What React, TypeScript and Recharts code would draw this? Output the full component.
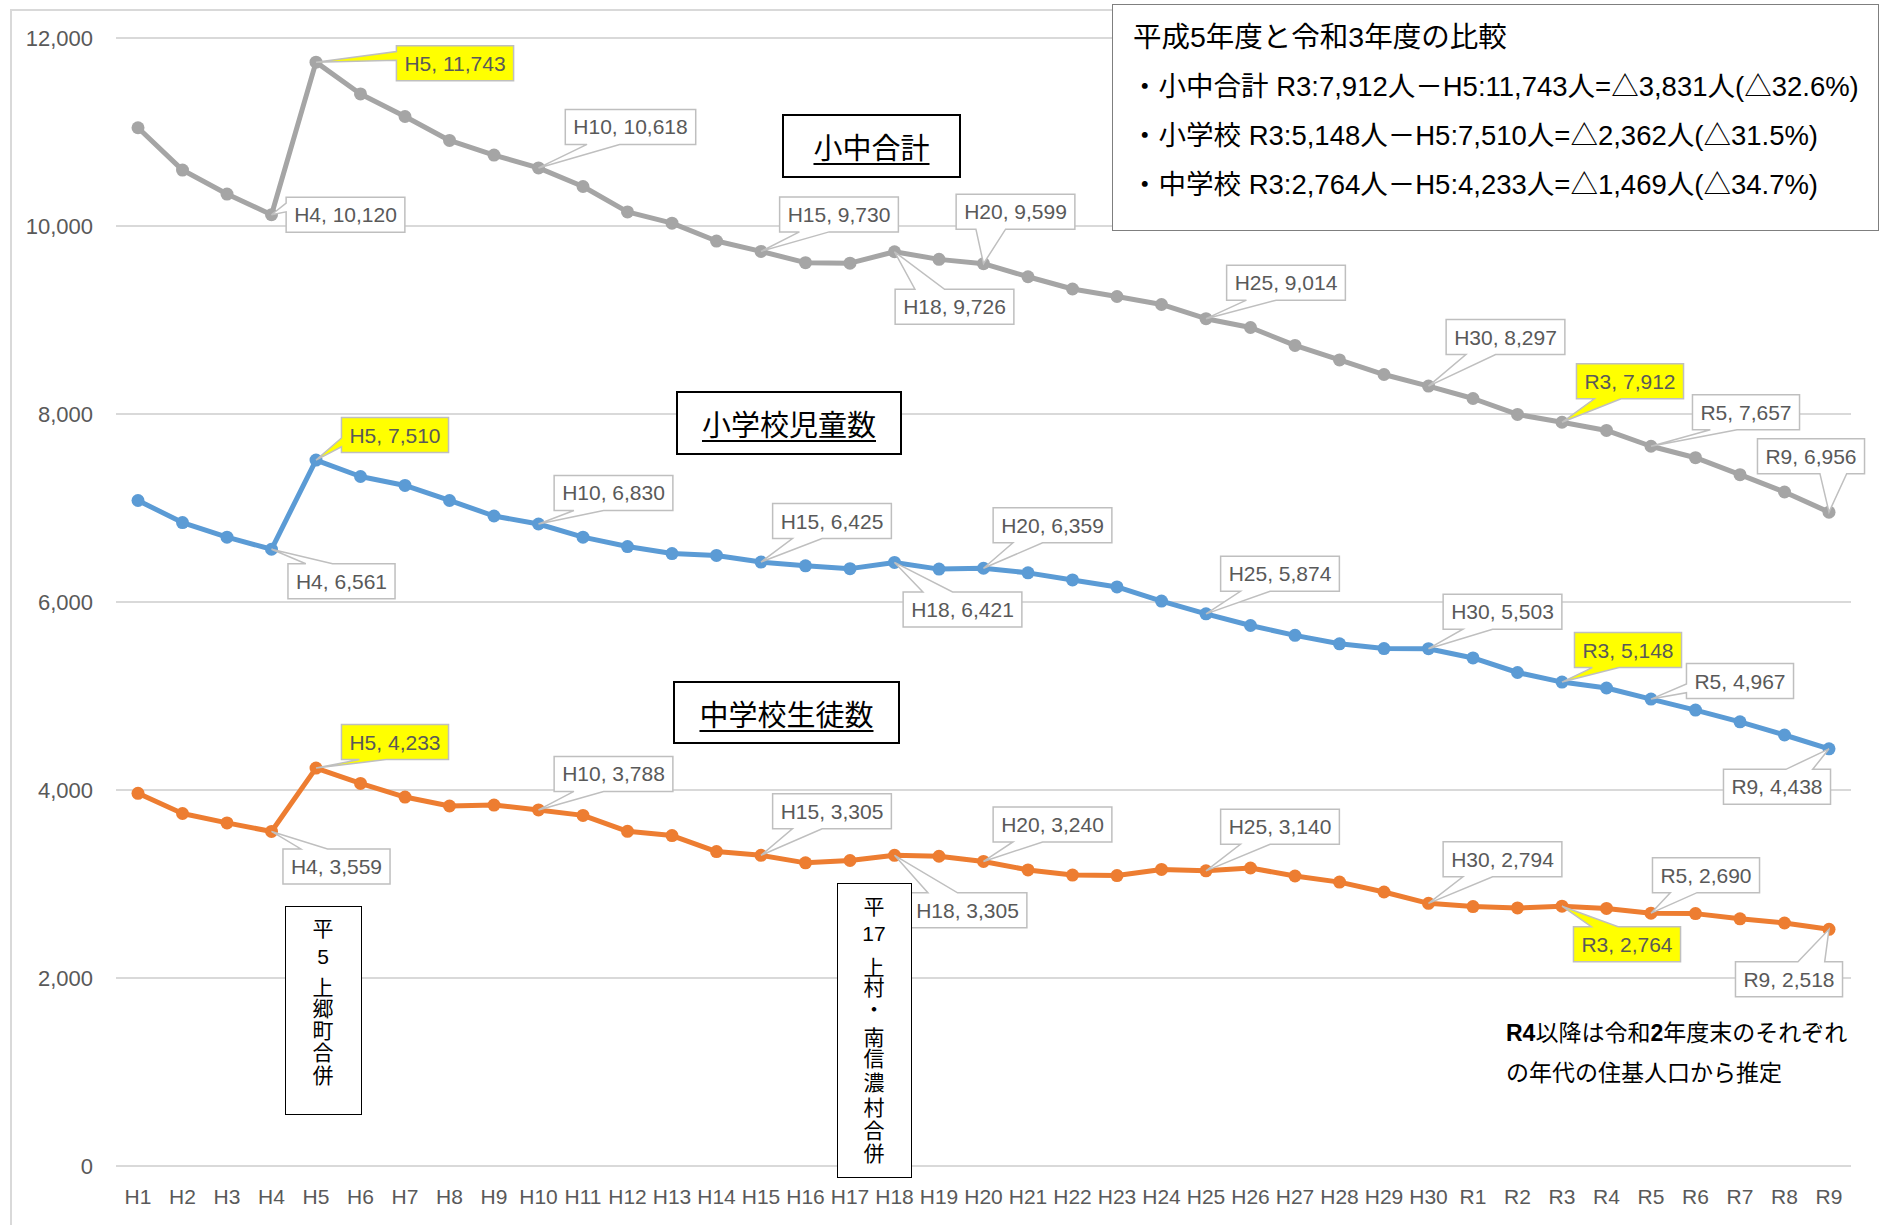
import React from 'react';
import { LineChart, Line, XAxis, YAxis, CartesianGrid } from 'recharts';

// 年度（平成1年度〜令和9年度）
const years = [
  'H1', 'H2', 'H3', 'H4', 'H5', 'H6', 'H7', 'H8', 'H9', 'H10',
  'H11', 'H12', 'H13', 'H14', 'H15', 'H16', 'H17', 'H18', 'H19', 'H20',
  'H21', 'H22', 'H23', 'H24', 'H25', 'H26', 'H27', 'H28', 'H29', 'H30',
  'R1', 'R2', 'R3', 'R4', 'R5', 'R6', 'R7', 'R8', 'R9',
];

// 小中合計
const totalStudents = [
  11045, 10595, 10340, 10120, 11743, 11405, 11165, 10910, 10755, 10618,
  10420, 10150, 10030, 9840, 9730, 9610, 9605, 9726, 9645, 9599,
  9460, 9330, 9250, 9165, 9014, 8920, 8730, 8575, 8420, 8297,
  8165, 7995, 7912, 7825, 7657, 7535, 7355, 7170, 6956,
];

// 小学校児童数
const elementaryStudents = [
  7080, 6845, 6690, 6561, 7510, 7335, 7240, 7080, 6915, 6830,
  6690, 6590, 6515, 6495, 6425, 6385, 6355, 6421, 6350, 6359,
  6310, 6235, 6160, 6010, 5874, 5750, 5645, 5555, 5505, 5503,
  5405, 5250, 5148, 5085, 4967, 4850, 4725, 4585, 4438,
];

// 中学校生徒数
const juniorHighStudents = [
  3965, 3750, 3650, 3559, 4233, 4070, 3925, 3830, 3840, 3788,
  3730, 3560, 3515, 3345, 3305, 3225, 3250, 3305, 3295, 3240,
  3150, 3095, 3090, 3155, 3140, 3170, 3085, 3020, 2915, 2794,
  2760, 2745, 2764, 2740, 2690, 2685, 2630, 2585, 2518,
];

const yTicks = [0, 2000, 4000, 6000, 8000, 10000, 12000];
const highlightedYears = ['H5', 'R3'];

// callout box centre, relative to its point (px)
type Offsets = Record<string, [number, number]>;
const totalLabelPos: Offsets = {
  H4: [74, 0], H5: [139, 1], H10: [92, -41], H15: [78, -37], H18: [60, 55], H20: [32, -52],
  H25: [80, -36], H30: [77, -49], R3: [68, -41], R5: [95, -34], R9: [-18, -56],
};
const elementaryLabelPos: Offsets = {
  H4: [70, 32], H5: [79, -25], H10: [75, -31], H15: [71, -41], H18: [68, 47], H20: [69, -43],
  H25: [74, -40], H30: [74, -37], R3: [66, -32], R5: [89, -18], R9: [-52, 38],
};
const juniorLabelPos: Offsets = {
  H4: [65, 35], H5: [79, -26], H10: [75, -36], H15: [71, -44], H18: [73, 55], H20: [69, -37],
  H25: [74, -44], H30: [74, -44], R3: [65, 38], R5: [55, -38], R9: [-40, 50],
};

const FONT = '"Liberation Sans", Arial, "Noto Sans CJK JP", sans-serif';
const JP_FONT = '"Liberation Sans", "Noto Sans CJK JP", sans-serif';
const TEXT_GREY = '#595959';

const rows = years.map((year, i) => ({
  year,
  total: totalStudents[i],
  elementary: elementaryStudents[i],
  juniorHigh: juniorHighStudents[i],
}));

let measureCtx: CanvasRenderingContext2D | null = null;
function textWidth(text: string) {
  if (!measureCtx) measureCtx = document.createElement('canvas').getContext('2d');
  if (!measureCtx) return text.length * 11;
  measureCtx.font = '21px "Liberation Sans", Arial, sans-serif';
  return measureCtx.measureText(text).width;
}

// wedge-rect callout like Excel's
function calloutPath(cx: number, cy: number, w: number, h: number, px: number, py: number) {
  const l = cx - w / 2, t = cy - h / 2, r = cx + w / 2, b = cy + h / 2;
  const dx = px - cx, dy = py - cy;
  const vertical = Math.abs(dy) - Math.abs((dx * h) / w) > 0;
  const xa = l + (w * (px > cx ? 7 : 2)) / 12;
  const xb = l + (w * (px > cx ? 10 : 5)) / 12;
  const ya = t + (h * (py > cy ? 7 : 2)) / 12;
  const yb = t + (h * (py > cy ? 10 : 5)) / 12;
  let d = `M${l},${t}`;
  if (vertical && dy < 0) d += ` L${xa},${t} L${px},${py} L${xb},${t}`;
  d += ` L${r},${t}`;
  if (!vertical && dx > 0) d += ` L${r},${ya} L${px},${py} L${r},${yb}`;
  d += ` L${r},${b}`;
  if (vertical && dy > 0) d += ` L${xb},${b} L${px},${py} L${xa},${b}`;
  d += ` L${l},${b}`;
  if (!vertical && dx < 0) d += ` L${l},${yb} L${px},${py} L${l},${ya}`;
  return d + ' Z';
}

const makeDot = (color: string, dataKey: string, labelPos: Offsets) => (props: any) => {
  const { cx, cy, index, payload } = props;
  const year = years[index];
  const pos = labelPos[year];
  let callout = null;
  if (pos && cx != null && cy != null) {
    const text = `${year}, ${Number(payload[dataKey]).toLocaleString('en-US')}`;
    const w = textWidth(text) + 16;
    const h = 35;
    const bx = cx + pos[0];
    const by = cy + pos[1];
    callout = (
      <g>
        <path
          d={calloutPath(bx, by, w, h, cx, cy)}
          fill={highlightedYears.includes(year) ? '#FFFF00' : '#FFFFFF'}
          stroke="#BFBFBF"
          strokeWidth={1.5}
        />
        <text x={bx} y={by} textAnchor="middle" dominantBaseline="central" fontSize={21} fill={TEXT_GREY} fontFamily={FONT}>
          {text}
        </text>
      </g>
    );
  }
  return (
    <g key={`${dataKey}-dot-${index}`}>
      <circle cx={cx} cy={cy} r={6.5} fill={color} />
      {callout}
    </g>
  );
};

const seriesBox: React.CSSProperties = {
  position: 'absolute',
  boxSizing: 'border-box',
  border: '2.5px solid #000',
  background: '#fff',
  display: 'flex',
  alignItems: 'center',
  justifyContent: 'center',
  fontFamily: JP_FONT,
  fontSize: 29,
  textDecoration: 'underline',
  textUnderlineOffset: 4,
  textDecorationThickness: 1.5,
  color: '#000',
};

function VerticalNote({ left, top, width, height, chars }: { left: number; top: number; width: number; height: number; chars: [string, number][] }) {
  return (
    <div style={{ position: 'absolute', left, top, width, height, boxSizing: 'border-box', border: '1.5px solid #000', background: '#fff' }}>
      {chars.map(([c, y], i) => (
        <div
          key={i}
          style={{
            position: 'absolute', left: 0, width: width - 3, top: y - 10, height: 20, lineHeight: '20px',
            textAlign: 'center', fontFamily: JP_FONT, fontSize: /\d/.test(c) ? 21 : 21, color: '#000',
          }}
        >
          {c}
        </div>
      ))}
    </div>
  );
}

const infoLine: React.CSSProperties = {
  position: 'absolute', left: 18, height: 36, lineHeight: '36px', fontSize: 27.5, whiteSpace: 'nowrap',
};

export default function App() {
  return (
    <div style={{ position: 'relative', width: 1879, height: 1225, overflow: 'hidden', background: '#fff', fontFamily: FONT }}>
      <style>{'body{margin:0}'}</style>
      <div style={{ position: 'absolute', left: 10, top: 9, width: 2000, height: 2000, border: '2px solid #D9D9D9' }} />
      <div style={{ position: 'absolute', left: 0, top: 0 }}>
        <LineChart width={1879} height={1225} data={rows} margin={{ top: 38, right: 28, bottom: 0, left: 0 }}>
          <CartesianGrid vertical={false} stroke="#D9D9D9" strokeWidth={2} />
          <XAxis
            dataKey="year"
            interval={0}
            axisLine={false}
            tickLine={false}
            tickSize={0}
            tickMargin={23}
            height={59}
            padding={{ left: 22, right: 22 }}
            tick={{ fill: TEXT_GREY, fontSize: 21, fontFamily: FONT }}
          />
          <YAxis
            domain={[0, 12000]}
            ticks={yTicks}
            width={116}
            axisLine={false}
            tickLine={false}
            tickSize={0}
            tickMargin={23}
            tickFormatter={(v: number) => v.toLocaleString('en-US')}
            tick={{ fill: TEXT_GREY, fontSize: 22, fontFamily: FONT }}
          />
          <Line dataKey="total" stroke="#A5A5A5" strokeWidth={5} strokeLinejoin="round" dot={makeDot('#A5A5A5', 'total', totalLabelPos)} activeDot={false} isAnimationActive={false} />
          <Line dataKey="elementary" stroke="#5B9BD5" strokeWidth={5} strokeLinejoin="round" dot={makeDot('#5B9BD5', 'elementary', elementaryLabelPos)} activeDot={false} isAnimationActive={false} />
          <Line dataKey="juniorHigh" stroke="#ED7D31" strokeWidth={5} strokeLinejoin="round" dot={makeDot('#ED7D31', 'juniorHigh', juniorLabelPos)} activeDot={false} isAnimationActive={false} />
        </LineChart>
      </div>

      <div style={{ ...seriesBox, left: 782, top: 114, width: 179, height: 64 }}>小中合計</div>
      <div style={{ ...seriesBox, left: 676, top: 391, width: 226, height: 64 }}>小学校児童数</div>
      <div style={{ ...seriesBox, left: 673, top: 681, width: 227, height: 63 }}>中学校生徒数</div>

      <VerticalNote left={285} top={906} width={77} height={209} chars={[['平', 22], ['5', 50], ['上', 81], ['郷', 102], ['町', 124], ['合', 146], ['併', 169]]} />
      <VerticalNote
        left={837}
        top={883}
        width={75}
        height={295}
        chars={[['平', 23], ['17', 50], ['上', 84], ['村', 104], ['・', 126], ['南', 154], ['信', 175], ['濃', 199], ['村', 224], ['合', 247], ['併', 270]]}
      />

      <div style={{ position: 'absolute', left: 1112, top: 4, width: 767, height: 227, boxSizing: 'border-box', border: '1.5px solid #7F7F7F', background: '#fff', fontFamily: JP_FONT, color: '#000' }}>
        <div style={{ ...infoLine, left: 20, top: 14, fontSize: 28.5 }}>平成5年度と令和3年度の比較</div>
        <div style={{ ...infoLine, top: 64 }}>・小中合計 R3:7,912人－H5:11,743人=△3,831人(△32.6%)</div>
        <div style={{ ...infoLine, top: 113 }}>・小学校 R3:5,148人－H5:7,510人=△2,362人(△31.5%)</div>
        <div style={{ ...infoLine, top: 162 }}>・中学校 R3:2,764人－H5:4,233人=△1,469人(△34.7%)</div>
      </div>

      <div style={{ position: 'absolute', left: 1506, top: 1013, fontFamily: JP_FONT, fontSize: 23, lineHeight: '40px', color: '#000', whiteSpace: 'nowrap' }}>
        <div><b>R4</b>以降は令和<b>2</b>年度末のそれぞれ</div>
        <div>の年代の住基人口から推定</div>
      </div>
    </div>
  );
}
